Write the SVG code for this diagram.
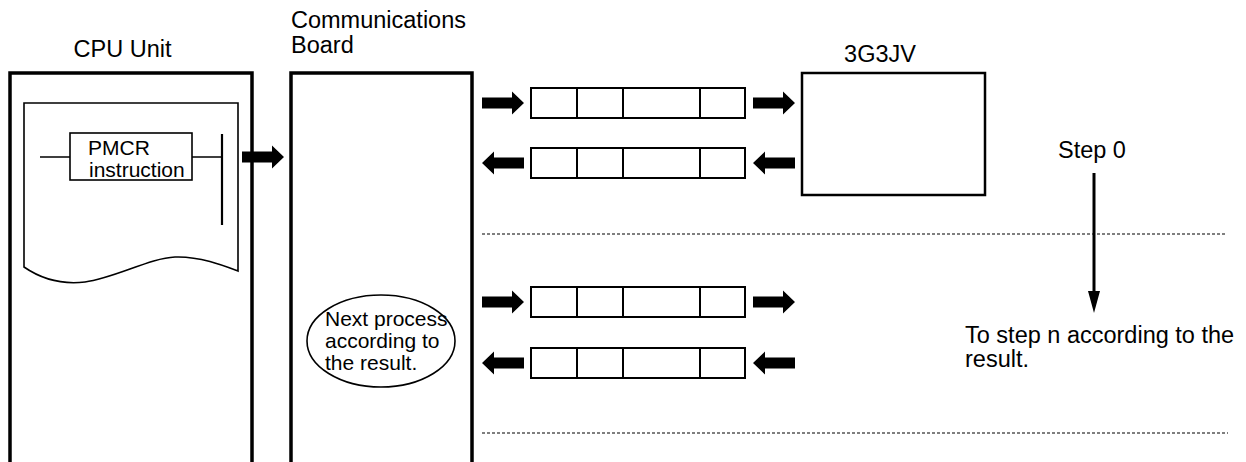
<svg xmlns="http://www.w3.org/2000/svg" width="1246" height="462" viewBox="0 0 1246 462">
<defs>
<style>
text{font-family:"Liberation Sans",Arial,sans-serif;fill:#000}
.lbl{font-size:23.5px}
.sm{font-size:21px}
.box{fill:none;stroke:#000;stroke-width:3.5}
.frm{fill:#fff;stroke:#000;stroke-width:2}
.thin{fill:none;stroke:#000;stroke-width:1.6}
.dash{fill:none;stroke:#000;stroke-width:1.2;stroke-dasharray:3 2}
.arr{fill:#000}
</style>
<path id="ar" d="M0,-5.5 H30 V-11.5 L42,0 L30,11.5 V5.5 H0 Z"/>
<g id="frame">
<rect class="frm" x="0" y="0" width="214" height="30"/>
<path class="frm" d="M46,0 V30 M92,0 V30 M169,0 V30"/>
</g>
</defs>
<rect width="1246" height="462" fill="#fff"/>

<g id="cpu">
<path class="box" d="M10,462 V73 H252 V462"/>
<text class="lbl" x="122.5" y="57" text-anchor="middle">CPU Unit</text>
<path class="thin" d="M24,267 V103 H238 V271 C225,266 200,256 175,257 C150,258 115,278 85,282 C60,285 40,278 24,267 Z"/>
<path class="thin" d="M40,157 H70 M192,157 H222"/>
<path d="M222,134 V225" stroke="#000" stroke-width="2.2" fill="none"/>
<rect class="thin" x="70" y="133" width="122" height="47" fill="#fff"/>
<text class="sm" x="88" y="155">PMCR</text>
<text class="sm" x="89" y="177">instruction</text>
</g>

<g id="comm">
<text class="lbl" x="291" y="28">Communications</text>
<text class="lbl" x="291" y="53">Board</text>
<path class="box" d="M291,462 V73 H472 V462"/>
<ellipse class="thin" cx="381" cy="341" rx="74" ry="46"/>
<text class="sm" x="325" y="326">Next process</text>
<text class="sm" x="325" y="348">according to</text>
<text class="sm" x="325" y="370">the result.</text>
</g>

<g id="inv">
<rect x="802" y="73" width="183" height="122" fill="none" stroke="#000" stroke-width="2.5"/>
<text class="lbl" x="880" y="62" text-anchor="middle">3G3JV</text>
</g>

<g id="frames">
<use href="#frame" x="531" y="88"/>
<use href="#frame" x="531" y="148"/>
<use href="#frame" x="531" y="287"/>
<use href="#frame" x="531" y="348"/>
</g>

<g id="steps">
<text class="lbl" x="1058" y="158">Step 0</text>
<text class="lbl" x="965" y="343">To step n according to the</text>
<text class="lbl" x="965" y="367">result.</text>
</g>

<g id="connectors">
<use class="arr" href="#ar" transform="translate(242,157)"/>
<use class="arr" href="#ar" transform="translate(482,103)"/>
<use class="arr" href="#ar" transform="translate(753,103)"/>
<use class="arr" href="#ar" transform="translate(524,163) scale(-1,1)"/>
<use class="arr" href="#ar" transform="translate(795,163) scale(-1,1)"/>
<use class="arr" href="#ar" transform="translate(482,302)"/>
<use class="arr" href="#ar" transform="translate(753,302)"/>
<use class="arr" href="#ar" transform="translate(524,363) scale(-1,1)"/>
<use class="arr" href="#ar" transform="translate(795,363) scale(-1,1)"/>
<path class="dash" d="M482,234 H1226 M482,433 H1228"/>
<path d="M1094,173 V295" stroke="#000" stroke-width="3" fill="none"/>
<polygon points="1088,291 1100,291 1094,313" fill="#000"/>
</g>
</svg>
